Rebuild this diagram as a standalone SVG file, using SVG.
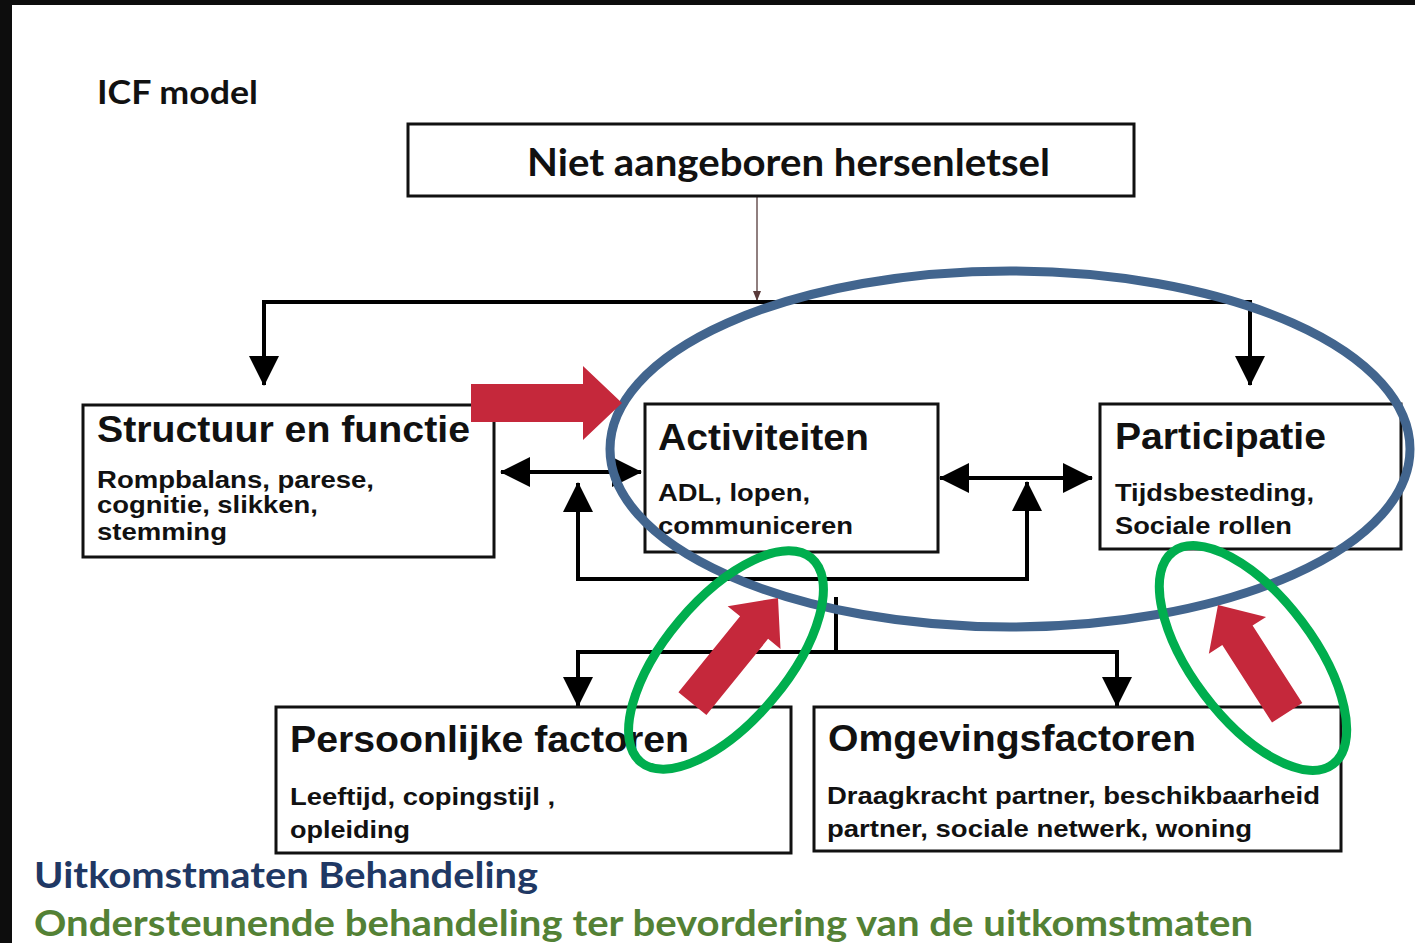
<svg xmlns="http://www.w3.org/2000/svg" width="1415" height="943" viewBox="0 0 1415 943">
<defs>
<style>
.box{fill:#fff;stroke:#111;stroke-width:3}
.t{font-family:"Liberation Sans",Arial,sans-serif;font-weight:700;fill:#111}
.h{font-size:37px}
.s{font-size:24px}
.c{font-family:Lato,"Open Sans",sans-serif;font-weight:700}
.ln{fill:none;stroke:#000;stroke-width:4}
.red{fill:#C5283B}
.blue{fill:none;stroke:#42658E;stroke-width:9}
.green{fill:none;stroke:#00AE4E;stroke-width:9}
</style>
<marker id="ah" markerUnits="userSpaceOnUse" markerWidth="30" markerHeight="30" viewBox="0 0 30 30" refX="29" refY="15" orient="auto-start-reverse">
<path d="M0,0 L30,15 L0,30 z" fill="#000"/>
</marker>
<marker id="sm" markerUnits="userSpaceOnUse" markerWidth="10" markerHeight="10" viewBox="0 0 10 10" refX="9" refY="5" orient="auto">
<path d="M0,1 L10,5 L0,9 z" fill="#5a3a3a"/>
</marker>
</defs>
<rect x="0" y="0" width="1415" height="943" fill="#fff"/>
<rect x="0" y="0" width="1415" height="5" fill="#0d0d0d"/>
<rect x="0" y="0" width="12" height="943" fill="#0d0d0d"/>

<text class="c" x="97" y="104" font-size="32" fill="#111" textLength="161" lengthAdjust="spacingAndGlyphs">ICF model</text>

<g id="connectors">
<line x1="757" y1="196" x2="757" y2="300" stroke="#6b5555" stroke-width="1.5" marker-end="url(#sm)"/>
<polyline class="ln" points="264,385 264,302 1250,302 1250,385" marker-start="url(#ah)" marker-end="url(#ah)"/>
<line class="ln" x1="501" y1="472" x2="641" y2="472" marker-start="url(#ah)" marker-end="url(#ah)"/>
<line class="ln" x1="940" y1="478" x2="1092" y2="478" marker-start="url(#ah)" marker-end="url(#ah)"/>
<polyline class="ln" points="578,483 578,579 1027,579 1027,482" marker-start="url(#ah)" marker-end="url(#ah)"/>
<line class="ln" x1="836" y1="597" x2="836" y2="652"/>
<polyline class="ln" points="578,706 578,652 1117,652 1117,706" marker-start="url(#ah)" marker-end="url(#ah)"/>
</g>

<g id="nah">
<rect class="box" x="408" y="124" width="726" height="72"/>
<text class="c" x="527" y="176" font-size="38" fill="#111" textLength="523" lengthAdjust="spacingAndGlyphs">Niet aangeboren hersenletsel</text>
</g>

<g id="structuur">
<rect class="box" x="83" y="405" width="411" height="152"/>
<text class="t h" x="97" y="442" textLength="373" lengthAdjust="spacingAndGlyphs">Structuur en functie</text>
<text class="t s" x="97" y="488" textLength="277" lengthAdjust="spacingAndGlyphs">Rompbalans, parese,</text>
<text class="t s" x="97" y="513" textLength="221" lengthAdjust="spacingAndGlyphs">cognitie, slikken,</text>
<text class="t s" x="97" y="540" textLength="130" lengthAdjust="spacingAndGlyphs">stemming</text>
</g>

<g id="activiteiten">
<rect class="box" x="645" y="404" width="293" height="148"/>
<text class="t h" x="658" y="450" textLength="211" lengthAdjust="spacingAndGlyphs">Activiteiten</text>
<text class="t s" x="658" y="501" textLength="152" lengthAdjust="spacingAndGlyphs">ADL, lopen,</text>
<text class="t s" x="658" y="534" textLength="195" lengthAdjust="spacingAndGlyphs">communiceren</text>
</g>

<g id="participatie">
<rect class="box" x="1100" y="404" width="301" height="145"/>
<text class="t h" x="1115" y="449" textLength="211" lengthAdjust="spacingAndGlyphs">Participatie</text>
<text class="t s" x="1115" y="501" textLength="199" lengthAdjust="spacingAndGlyphs">Tijdsbesteding,</text>
<text class="t s" x="1115" y="534" textLength="177" lengthAdjust="spacingAndGlyphs">Sociale rollen</text>
</g>

<g id="persoonlijk">
<rect class="box" x="276" y="707" width="515" height="146"/>
<text class="t h" x="290" y="752" textLength="399" lengthAdjust="spacingAndGlyphs">Persoonlijke factoren</text>
<text class="t s" x="290" y="805" textLength="265" lengthAdjust="spacingAndGlyphs">Leeftijd, copingstijl ,</text>
<text class="t s" x="290" y="838" textLength="120" lengthAdjust="spacingAndGlyphs">opleiding</text>
</g>

<g id="omgeving">
<rect class="box" x="814" y="707" width="527" height="144"/>
<text class="t h" x="828" y="751" textLength="368" lengthAdjust="spacingAndGlyphs">Omgevingsfactoren</text>
<text class="t s" x="827" y="804" textLength="493" lengthAdjust="spacingAndGlyphs">Draagkracht partner, beschikbaarheid</text>
<text class="t s" x="827" y="837" textLength="425" lengthAdjust="spacingAndGlyphs">partner, sociale netwerk, woning</text>
</g>

<g id="highlights">
<ellipse class="blue" cx="1010" cy="449" rx="400" ry="178"/>
<polygon class="red" points="0,0 -39,-37 -39,-19 -151,-19 -151,19 -39,19 -39,37" transform="translate(622,403)"/>
<polygon class="red" points="0,0 -38,-34 -38,-18 -136,-18 -136,18 -38,18 -38,34" transform="translate(778,598) rotate(-51)"/>
<polygon class="red" points="0,0 -36,-34 -36,-18 -128,-18 -128,18 -36,18 -36,34" transform="translate(1218,605) rotate(-122.7)"/>
<ellipse class="green" cx="726" cy="660" rx="133" ry="61" transform="rotate(-50 726 660)"/>
<ellipse class="green" cx="1253" cy="658" rx="133" ry="61" transform="rotate(53 1253 658)"/>
</g>

<text class="c" x="34" y="888" font-size="36" fill="#1F3864" textLength="504" lengthAdjust="spacingAndGlyphs">Uitkomstmaten Behandeling</text>
<text class="c" x="34" y="936" font-size="36" fill="#538135" textLength="1219" lengthAdjust="spacingAndGlyphs">Ondersteunende behandeling ter bevordering van de uitkomstmaten</text>
</svg>
